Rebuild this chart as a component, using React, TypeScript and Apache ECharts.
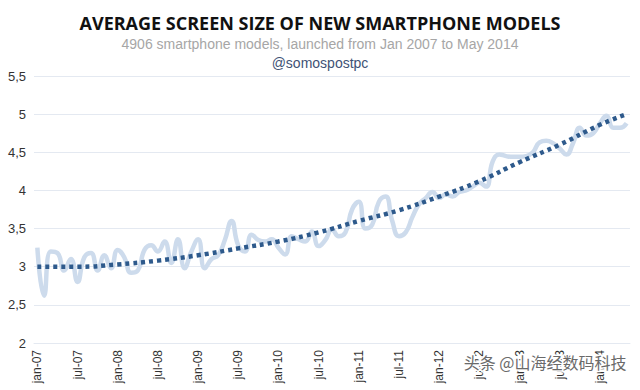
import React, { useEffect, useRef } from "react";
import * as echarts from "echarts";

const MONTHS = ["jan", "feb", "mar", "apr", "may", "jun", "jul", "aug", "sep", "oct", "nov", "dec"];
const YEARS = ["07", "08", "09", "10", "11", "12", "13", "14"];
const MONTH_COUNT = 89; // Jan 2007 .. May 2014
const categories: string[] = [];
for (let i = 0; i < MONTH_COUNT; i++) {
  categories.push(MONTHS[i % 12] + "-" + YEARS[Math.floor(i / 12)]);
}

// average screen size per month (inches)
const rawSize = [
  3.25, 2.62, 3.2, 3.18, 2.95, 3.1, 2.8, 3.12, 3.18, 2.95, 3.15, 2.98,
  3.22, 3.12, 2.92, 2.95, 3.22, 3.28, 3.2, 3.33, 3.05, 3.36, 2.98, 3.2,
  3.36, 2.98, 3.1, 3.15, 3.35, 3.6, 3.28, 3.2, 3.42, 3.35, 3.33, 3.36,
  3.25, 3.16, 3.4, 3.36, 3.33, 3.46, 3.27, 3.35, 3.49, 3.4, 3.45, 3.75,
  3.85, 3.5, 3.55, 3.85, 3.92, 3.6, 3.4, 3.45, 3.65, 3.82, 3.9, 3.98,
  3.9, 3.95, 3.92, 3.98, 4.0, 4.05, 4.1, 4.05, 4.38, 4.47, 4.45, 4.44,
  4.44, 4.45, 4.5, 4.63, 4.65, 4.62, 4.55, 4.47, 4.62, 4.82, 4.72, 4.75,
  4.88, 4.98, 4.82, 4.82, 4.88,
];

// trend line points (category index, value)
const trendIndex = [0, 6, 12, 18, 24, 30, 36, 42, 48, 54, 60, 66, 72, 78, 84, 88];
const trendSize = [3.0, 3.0, 3.03, 3.08, 3.15, 3.24, 3.33, 3.45, 3.6, 3.74, 3.92, 4.12, 4.37, 4.6, 4.86, 5.0];

const yTicks = { min: 2, max: 5.5, interval: 0.5 };

const TITLE = "AVERAGE SCREEN SIZE OF NEW SMARTPHONE MODELS";
const SUBTITLE = "4906 smartphone models, launched from Jan 2007 to May 2014";
const HANDLE = "@somospostpc";
const WATERMARK = "头条 @山海经数码科技";

export default function App() {
  const ref = useRef<HTMLDivElement>(null);
  useEffect(() => {
    if (!ref.current) return;
    const chart = echarts.init(ref.current, undefined, { renderer: "svg" });
    const font = "Liberation Sans";
    chart.setOption({
      animation: false,
      backgroundColor: "#ffffff",
      textStyle: { fontFamily: font },
      title: [
        {
          text: TITLE,
          left: "center",
          top: 9,
          textStyle: { fontFamily: "Open Sans", fontWeight: "bold", fontSize: 18, color: "#111" },
        },
        {
          text: SUBTITLE,
          left: "center",
          top: 32,
          textStyle: { fontFamily: font, fontWeight: "normal", fontSize: 14, color: "#a6a6a6" },
        },
        {
          text: HANDLE,
          left: "center",
          top: 51,
          textStyle: { fontFamily: font, fontWeight: "normal", fontSize: 14, color: "#3e5275" },
        },
      ],
      grid: { left: 34, right: 10, top: 76, bottom: 47, containLabel: false },
      xAxis: {
        type: "category",
        data: categories,
        boundaryGap: true,
        axisLine: { show: true, lineStyle: { color: "#e4e9f1", width: 1 } },
        axisTick: { show: false },
        axisLabel: { interval: 5, rotate: 90, fontSize: 12, color: "#333", margin: 7, fontFamily: font },
        splitLine: { show: false },
      },
      yAxis: {
        type: "value",
        min: yTicks.min,
        max: yTicks.max,
        interval: yTicks.interval,
        axisLine: { show: false },
        axisTick: { show: false },
        axisLabel: {
          fontSize: 13,
          color: "#333",
          margin: 8,
          fontFamily: font,
          formatter: (v: number) => String(v).replace(".", ","),
        },
        splitLine: { lineStyle: { color: "#e4e9f1", width: 1 } },
      },
      series: [
        {
          type: "line",
          data: rawSize,
          smooth: 0.5,
          symbol: "none",
          lineStyle: { color: "#cddbec", width: 4.5 },
          z: 2,
        },
        {
          type: "line",
          data: trendIndex.map((idx, i) => [idx, trendSize[i]]),
          smooth: true,
          symbol: "none",
          lineStyle: { color: "#2e5a8c", width: 4.5, type: [4, 4], cap: "butt" },
          z: 3,
        },
      ],
      graphic: [
        {
          type: "text",
          right: 12,
          top: 352,
          z: 10,
          style: {
            text: WATERMARK,
            fontFamily: "Noto Sans CJK SC",
            fontSize: 16,
            fill: "#6a6a6a",
            stroke: "#ffffff",
            lineWidth: 3,
          },
        },
      ],
    });
    return () => chart.dispose();
  }, []);
  return (
    <div
      ref={ref}
      style={{ position: "fixed", left: 0, top: 0, width: 640, height: 390, background: "#fff" }}
    />
  );
}
